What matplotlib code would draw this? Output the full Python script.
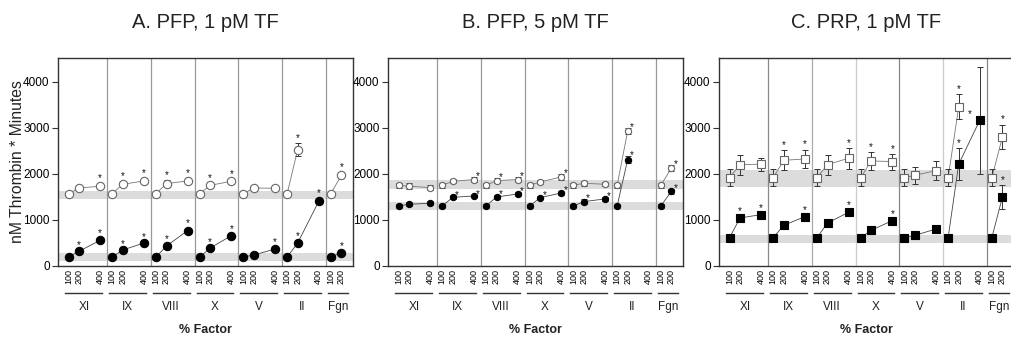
import numpy as np
import matplotlib.pyplot as plt
from matplotlib.transforms import blended_transform_factory

plt.rcParams['font.family'] = ['Liberation Sans', 'DejaVu Sans']

nan = np.nan
factors = ['XI', 'IX', 'VIII', 'X', 'V', 'II', 'Fgn']
pct = [100, 200, 400]

# A. PFP, 1 pM TF (open / filled circles)
a_open = [[1574, 1696, 1733], [1574, 1776, 1848], [1574, 1791, 1848], [1574, 1754, 1840],
          [1574, 1696, 1689], [1574, 2530, nan], [1574, 1972, nan]]
a_open_err = [[30, 30, 60], [30, 60, 70], [30, 70, 60], [30, 50, 50],
              [30, 40, 40], [30, 150, nan], [30, 60, nan]]
a_open_sig = [[0, 0, 1], [0, 1, 1], [0, 1, 1], [0, 1, 1], [0, 0, 0], [0, 1, 0], [0, 1, 0]]
a_fill = [[196, 320, 559], [196, 348, 500], [196, 435, 769], [196, 391, 660],
          [196, 239, 370], [196, 500, 1406], [196, 291, nan]]
a_fill_err = [[20, 30, 50], [20, 30, 30], [20, 40, 60], [20, 30, 30],
              [20, 20, 40], [20, 50, 60], [20, 30, nan]]
a_fill_sig = [[0, 1, 1], [0, 1, 1], [0, 1, 1], [0, 1, 1], [0, 0, 1], [0, 1, 1], [0, 1, 0]]
a_bands = [(1457, 1630), (109, 283)]

# B. PFP, 5 pM TF
b_open = [[1754, 1733, 1704], [1754, 1841, 1878], [1754, 1856, 1878], [1754, 1826, 1935],
          [1754, 1798, 1776], [1754, 2935, nan], [1754, 2130, nan]]
b_open_err = [[60, 60, 50], [60, 40, 50], [60, 60, 50], [60, 50, 60],
              [60, 50, 40], [60, 60, nan], [60, 60, nan]]
b_open_sig = [[0, 0, 0], [0, 0, 1], [0, 1, 1], [0, 0, 1], [0, 0, 0], [0, 1, 0], [0, 1, 0]]
b_fill = [[1304, 1341, 1363], [1304, 1493, 1522], [1304, 1500, 1565], [1304, 1486, 1587],
          [1304, 1400, 1457], [1304, 2313, nan], [1304, 1625, nan]]
b_fill_err = [[50, 40, 40], [50, 40, 30], [50, 40, 40], [50, 40, 50],
              [50, 50, 50], [50, 80, nan], [50, 50, nan]]
b_fill_sig = [[0, 0, 0], [0, 1, 1], [0, 1, 1], [0, 1, 1], [0, 1, 1], [0, 1, 0], [0, 1, 0]]
b_bands = [(1683, 1863), (1211, 1385)]

# C. PRP, 1 pM TF (open / filled squares)
c_open = [[1920, 2204, 2211], [1920, 2297, 2326], [1920, 2204, 2341], [1920, 2283, 2269],
          [1920, 1971, 2073], [1920, 3457, nan], [1920, 2804, nan]]
c_open_err = [[185, 217, 140], [185, 217, 205], [185, 217, 232], [185, 190, 174],
              [185, 181, 206], [185, 270, nan], [185, 270, nan]]
c_open_sig = [[0, 0, 0], [0, 1, 1], [0, 0, 1], [0, 1, 1], [0, 0, 0], [0, 1, 0], [0, 1, 0]]
c_fill = [[617, 1044, 1117], [617, 885, 1073], [617, 935, 1167], [617, 776, 987],
          [617, 667, 804], [617, 2211, 3167], [617, 1500, nan]]
c_fill_err = [[20, 30, 30], [20, 20, 30], [20, 20, 40], [20, 20, 30],
              [20, 20, 20], [20, 345, 1165], [20, 254, nan]]
c_fill_sig = [[0, 1, 1], [0, 0, 1], [0, 0, 1], [0, 0, 1], [0, 0, 0], [0, 1, 1], [0, 1, 0]]
c_bands = [(1717, 2096), (509, 683)]

STEP = 415  # x units between factor groups


def draw_series(ax, vals, errs, sigs, marker, ms, face, edge, lcolor, star_off):
    for g, (v, e, s) in enumerate(zip(vals, errs, sigs)):
        x = np.array([g * STEP + p for p in pct], dtype=float)
        v = np.array(v, dtype=float)
        e = np.array(e, dtype=float)
        ok = ~np.isnan(v)
        ax.plot(x[ok], v[ok], '-', color=lcolor, lw=0.6, zorder=3)
        ax.errorbar(x[ok], v[ok], yerr=e[ok], fmt='none', ecolor='#333333',
                    elinewidth=0.7, capsize=2, capthick=0.7, zorder=4)
        ax.plot(x[ok], v[ok], marker, ms=ms, mfc=face, mec=edge, mew=0.8,
                ls='none', zorder=5)
        for xi, vi, ei, si in zip(x, v, e, s):
            if si and not np.isnan(vi):
                base = vi + ei
                dx, dy = star_off
                if ei > 1000:
                    # huge error bar: asterisk sits beside the point
                    base, dx, dy = vi, -7, 1
                ax.annotate('*', (xi, base), xytext=(dx, dy),
                            textcoords='offset points', ha='center', va='bottom',
                            fontsize=7, color='#111111', zorder=6)


def draw_panel(ax, title, op, ope, ops, fl, fle, fls, bands, marker, ms, star_off, sep_colors):
    for lo, hi in bands:
        ax.axhspan(lo, hi, color='#dcdcdc', lw=0, zorder=0)
    for g, c in enumerate(sep_colors):
        ax.axvline(g * STEP + 468, color=c, lw=0.9, zorder=1)
    draw_series(ax, op, ope, ops, marker, ms, 'white', '#666666', '#777777', star_off)
    draw_series(ax, fl, fle, fls, marker, ms, 'black', 'black', '#444444', star_off)

    ax.set_xlim(0, 2800)
    ax.set_ylim(0, 4520)
    ax.set_yticks([0, 1000, 2000, 3000, 4000])
    ax.tick_params(axis='y', labelsize=8.5, length=4, width=0.8, color='#333333', pad=2)
    xt, xl = [], []
    for g, f in enumerate(factors):
        for p in (pct[:2] if f == 'Fgn' else pct):
            xt.append(g * STEP + p)
            xl.append(str(p))
    ax.set_xticks(xt)
    ax.set_xticklabels(xl, rotation=90, fontsize=6.5)
    ax.tick_params(axis='x', length=0, pad=2)
    for sp in ax.spines.values():
        sp.set_color('#333333')
        sp.set_linewidth(1.0)

    tr = blended_transform_factory(ax.transData, ax.transAxes)
    for g, f in enumerate(factors):
        x0 = g * STEP + 70
        x1 = g * STEP + (262 if f == 'Fgn' else 420)
        ax.plot([x0, x1], [-0.13, -0.13], color='#333333', lw=1.0,
                transform=tr, clip_on=False)
        ax.text((x0 + x1) / 2, -0.197, f, transform=tr, ha='center', va='center',
                fontsize=8.5, color='#222222')
    ax.text(0.5, -0.308, '% Factor', transform=ax.transAxes, ha='center', va='center',
            fontsize=9, fontweight='bold', color='#222222')
    ax.text(0.5, 1.173, title, transform=ax.transAxes, ha='center', va='center',
            fontsize=14.5, color='#222222')


fig = plt.figure(figsize=(10.11, 3.39), dpi=100)
W, H = 1011, 339
bot, hgt, wid = 1 - 266 / H, 208 / H, 295 / W
ax_a = fig.add_axes([58 / W, bot, wid, hgt])
ax_b = fig.add_axes([388 / W, bot, wid, hgt])
ax_c = fig.add_axes([719 / W, bot, wid, hgt])

draw_panel(ax_a, 'A. PFP, 1 pM TF', a_open, a_open_err, a_open_sig, a_fill, a_fill_err,
           a_fill_sig, a_bands, 'o', 6, (0, 0), ['#999999'] * 6)
draw_panel(ax_b, 'B. PFP, 5 pM TF', b_open, b_open_err, b_open_sig, b_fill, b_fill_err,
           b_fill_sig, b_bands, 'o', 4.5, (3, -3), ['#999999'] * 6)
draw_panel(ax_c, 'C. PRP, 1 pM TF', c_open, c_open_err, c_open_sig, c_fill, c_fill_err,
           c_fill_sig, c_bands, 's', 6, (0, 0),
           ['#888888', '#aaaaaa', '#cccccc', '#888888', '#cccccc', '#888888'])

fig.text(18 / W, 1 - 162 / H, 'nM Thrombin * Minutes', rotation=90, ha='center',
         va='center', fontsize=11.3, color='#222222')

fig.savefig('out.png', dpi=100)
